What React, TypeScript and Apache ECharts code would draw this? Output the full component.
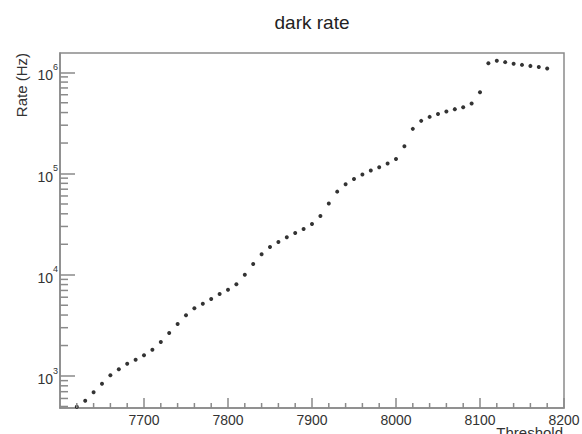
import React, { useEffect, useRef } from "react";
import * as echarts from "echarts";

const thresholds = [
  7620, 7630, 7640, 7650, 7660, 7670, 7680, 7690, 7700, 7710,
  7720, 7730, 7740, 7750, 7760, 7770, 7780, 7790, 7800, 7810,
  7820, 7830, 7840, 7850, 7860, 7870, 7880, 7890, 7900, 7910,
  7920, 7930, 7940, 7950, 7960, 7970, 7980, 7990, 8000, 8010,
  8020, 8030, 8040, 8050, 8060, 8070, 8080, 8090, 8100, 8110,
  8120, 8130, 8140, 8150, 8160, 8170, 8180,
];

const rates = [
  498, 570, 690, 840, 1016, 1165, 1324, 1449, 1603, 1821,
  2167, 2660, 3266, 3980, 4670, 5176, 5770, 6460, 7110, 8055,
  10020, 12790, 15960, 18840, 21100, 23490, 25900, 28370, 31780, 38100,
  50480, 66220, 78340, 88450, 97570, 106900, 115400, 125300, 139400, 186100,
  276100, 331200, 362500, 388000, 409400, 432300, 451500, 490800, 635700, 1230000,
  1297000, 1259000, 1211000, 1183000, 1156000, 1130000, 1088000,
];

const xMinorTicks = [
  7620, 7640, 7660, 7680, 7720, 7740, 7760, 7780, 7820, 7840,
  7860, 7880, 7920, 7940, 7960, 7980, 8020, 8040, 8060, 8080,
  8120, 8140, 8160, 8180,
];

const yMinorTicks = [
  500, 600, 700, 800, 900,
  2000, 3000, 4000, 5000, 6000, 7000, 8000, 9000,
  20000, 30000, 40000, 50000, 60000, 70000, 80000, 90000,
  200000, 300000, 400000, 500000, 600000, 700000, 800000, 900000,
];

const X_MIN = 7600;
const X_MAX = 8200;
const Y_MIN = 483;
const Y_MAX = 1550000;

const FONT = "'Liberation Sans', Arial, Helvetica, sans-serif";
const LINE = "#8a8a8a";
const TICK = "#8a8a8a";
const TEXT = "#333";

export default function App() {
  const ref = useRef<HTMLDivElement>(null);
  useEffect(() => {
    if (!ref.current) return;
    const chart = echarts.init(ref.current, null, { renderer: "svg" });
    const tickSeries = (data: number[][], dx: number, dy: number) => ({
      type: "custom",
      silent: true,
      clip: false,
      z: 5,
      data,
      renderItem: (params: any, api: any) => {
        const p = api.coord([api.value(0), api.value(1)]);
        return {
          type: "line",
          shape: { x1: p[0], y1: p[1], x2: p[0] + dx, y2: p[1] + dy },
          style: { stroke: TICK, lineWidth: 1.5 },
        };
      },
    });
    chart.setOption({
      animation: false,
      backgroundColor: "#fff",
      grid: {
        left: 60,
        top: 53,
        width: 504,
        height: 355,
        outerBoundsMode: "none",
        containLabel: false,
      },
      graphic: [
        {
          type: "rect",
          silent: true,
          z: 0,
          shape: { x: 60, y: 53, width: 504, height: 355 },
          style: { fill: "none", stroke: LINE, lineWidth: 1.5 },
        },
        {
          type: "text",
          x: 312,
          y: 22,
          style: {
            text: "dark rate",
            font: `19px ${FONT}`,
            fill: "#222",
            align: "center",
            verticalAlign: "middle",
          },
        },
        {
          type: "text",
          x: 563,
          y: 425,
          style: {
            text: "Threshold",
            font: `15px ${FONT}`,
            fill: TEXT,
            align: "right",
            verticalAlign: "top",
          },
        },
        {
          type: "text",
          x: 21,
          y: 53,
          rotation: Math.PI / 2,
          style: {
            text: "Rate (Hz)",
            font: `15px ${FONT}`,
            fill: TEXT,
            align: "right",
            verticalAlign: "middle",
          },
        },
      ],
      xAxis: {
        type: "value",
        min: X_MIN,
        max: X_MAX,
        interval: 100,
        axisLine: { show: true, onZero: false, lineStyle: { color: LINE, width: 1.5 } },
        axisTick: { show: true, inside: true, length: 10, lineStyle: { color: TICK, width: 1.5 } },
        splitLine: { show: false },
        axisLabel: {
          showMinLabel: false,
          showMaxLabel: true,
          margin: 5,
          color: TEXT,
          fontSize: 14,
          fontFamily: FONT,
          formatter: (v: number) => String(v),
        },
      },
      yAxis: {
        type: "log",
        logBase: 10,
        min: Y_MIN,
        max: Y_MAX,
        splitNumber: 4,
        axisLine: { show: true, lineStyle: { color: LINE, width: 1.5 } },
        axisTick: { show: true, inside: true, length: 15, lineStyle: { color: TICK, width: 1.5 } },
        splitLine: { show: false },
        axisLabel: {
          margin: 2,
          showMinLabel: false,
          showMaxLabel: false,
          color: TEXT,
          fontFamily: FONT,
          formatter: (v: number) => {
            const e = Math.log10(v);
            if (Math.abs(e - Math.round(e)) > 1e-6) return "";
            return `{b|10}{s|${Math.round(e)}}`;
          },
          rich: {
            b: { fontSize: 14, fontFamily: FONT, color: TEXT, padding: [6, 0, 0, 0] },
            s: { fontSize: 9, fontFamily: FONT, color: TEXT, verticalAlign: "top" },
          },
        },
      },
      series: [
        {
          type: "scatter",
          data: thresholds.map((t, i) => [t, rates[i]]),
          symbol: "circle",
          symbolSize: 4,
          itemStyle: { color: "#000" },
          silent: true,
          z: 3,
        },
        tickSeries(
          yMinorTicks.filter((v) => v >= Y_MIN && v <= Y_MAX).map((v) => [X_MIN, v]),
          8,
          0
        ),
        tickSeries(xMinorTicks.map((x) => [x, Y_MIN]), 0, -5),
      ],
    });
    return () => chart.dispose();
  }, []);
  return <div ref={ref} style={{ width: 582, height: 434, position: "absolute", left: 0, top: 0 }} />;
}
